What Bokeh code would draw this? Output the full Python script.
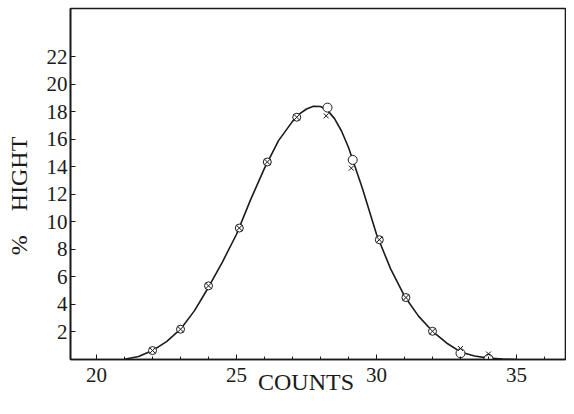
from bokeh.plotting import figure
from bokeh.models import FixedTicker, Range1d
from bokeh.embed import file_html
from bokeh.resources import INLINE

# smooth curve
curve_x = [21.0, 21.5, 22.0, 22.5, 23.0, 23.5, 24.0, 24.5, 25.0, 25.5, 26.0, 26.5,
           27.0, 27.25, 27.5, 27.75, 28.0, 28.25, 28.5, 28.75, 29.0, 29.5, 30.0,
           30.5, 31.0, 31.5, 32.0, 32.5, 33.0, 33.5, 34.0, 34.5, 35.0]
curve_y = [0.02, 0.22, 0.65, 1.3, 2.2, 3.55, 5.25, 7.1, 9.1, 11.6, 13.9, 15.9,
           17.3, 17.85, 18.2, 18.4, 18.38, 18.1, 17.5, 16.6, 15.4, 12.4, 9.1,
           6.6, 4.6, 3.15, 2.05, 1.2, 0.55, 0.25, 0.1, 0.03, 0.0]

# crossed-circle points
cx_x = [22.0, 23.0, 24.0, 25.1, 26.1, 27.15, 30.1, 31.05, 32.0]
cx_y = [0.65, 2.2, 5.35, 9.55, 14.35, 17.6, 8.7, 4.5, 2.05]
# open-circle points
open_x = [28.25, 29.15, 33.0, 34.0]
open_y = [18.3, 14.5, 0.45, 0.05]
# cross points
cross_x = [28.2, 29.1, 33.0, 34.0]
cross_y = [17.7, 13.9, 0.8, 0.4]

x_ticks = [20, 25, 30, 35]
y_ticks = [2, 4, 6, 8, 10, 12, 14, 16, 18, 20, 22]

FONT = "Liberation Serif"
INK = "#1a1a1a"
W, H = 566, 398

p = figure(width=W, height=H, output_backend="svg", toolbar_location=None,
           x_range=Range1d(19.07, 36.75), y_range=Range1d(0, 25.5),
           min_border_left=70, min_border_right=1, min_border_top=8, min_border_bottom=39)
p.background_fill_color = "white"
p.border_fill_color = "white"
p.outline_line_color = INK
p.outline_line_width = 1.6
p.grid.visible = False

p.line(curve_x, curve_y, line_color=INK, line_width=1.6, line_join="round")
p.scatter(cx_x, cx_y, marker="circle_x", size=8, line_color=INK, fill_color="white", line_width=1)
p.scatter(open_x, open_y, marker="circle", size=9, line_color=INK, fill_color="white", line_width=1)
p.scatter(cross_x, cross_y, marker="x", size=7, line_color=INK, line_width=1)

for ax in (p.xaxis[0], p.yaxis[0]):
    ax.axis_line_color = INK
    ax.axis_line_width = 1.6
    ax.major_tick_line_color = INK
    ax.minor_tick_line_color = INK
    ax.major_tick_in = 5
    ax.major_tick_out = 0
    ax.minor_tick_in = 3
    ax.minor_tick_out = 0
    ax.major_label_text_font = FONT
    ax.major_label_text_font_size = "21px"
    ax.major_label_text_color = INK
    ax.axis_label_text_font = FONT
    ax.axis_label_text_font_size = "24px"
    ax.axis_label_text_font_style = "normal"
    ax.axis_label_text_color = INK

p.xaxis.ticker = FixedTicker(ticks=x_ticks, minor_ticks=list(range(20, 37)))
p.yaxis.ticker = FixedTicker(ticks=y_ticks, minor_ticks=[])
p.xaxis.major_label_standoff = 8
p.yaxis.major_label_standoff = 3

p.xaxis.axis_label = "COUNTS\u2002\u2002"
p.xaxis.axis_label_standoff = -16
p.yaxis.axis_label = "%\u2002\u2002HIGHT\u2002\u2002"
p.yaxis.axis_label_standoff = 12

open("out.html", "w").write(file_html(p, INLINE))
